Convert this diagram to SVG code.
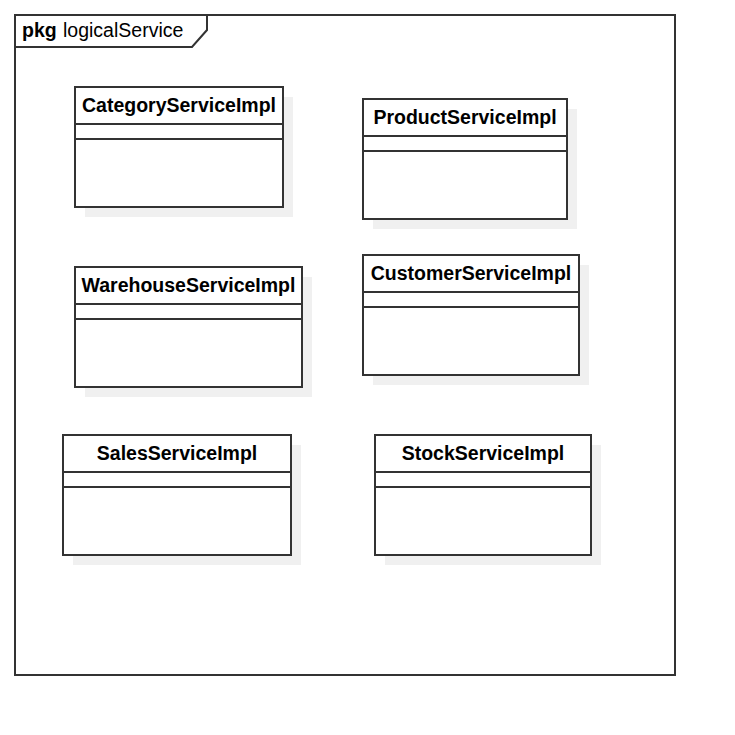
<svg xmlns="http://www.w3.org/2000/svg" width="735" height="735" viewBox="0 0 735 735">
<style>
.frame{fill:none;stroke:#333;stroke-width:2}
.box{fill:#fff;stroke:#333;stroke-width:2}
.sh{fill:#f0f0f0;stroke:none}
.ln{stroke:#333;stroke-width:2}
.t{font-family:"Liberation Sans",Arial,sans-serif;font-size:19.5px;font-weight:bold;fill:#000;text-anchor:middle}
.p{font-family:"Liberation Sans",Arial,sans-serif;font-size:19.5px;fill:#000}
</style>
<rect x="0" y="0" width="735" height="735" fill="#fff"/>
<g id="package">
<rect class="frame" x="15" y="15" width="660" height="660"/>
<path class="frame" d="M15,47 L192,47 L207,30 L207,15"/>
<text class="p" x="22" y="37" font-weight="bold">pkg</text>
<text class="p" x="63" y="37">logicalService</text>
</g>
<g id="CategoryServiceImpl">
<rect class="sh" x="85" y="97" width="208" height="120"/>
<rect class="box" x="75" y="87" width="208" height="120"/>
<line class="ln" x1="75" y1="124" x2="283" y2="124"/><line class="ln" x1="75" y1="139" x2="283" y2="139"/>
<text class="t" x="179" y="112">CategoryServiceImpl</text>
</g>
<g id="ProductServiceImpl">
<rect class="sh" x="373" y="109" width="204" height="120"/>
<rect class="box" x="363" y="99" width="204" height="120"/>
<line class="ln" x1="363" y1="136" x2="567" y2="136"/><line class="ln" x1="363" y1="151" x2="567" y2="151"/>
<text class="t" x="465" y="124">ProductServiceImpl</text>
</g>
<g id="WarehouseServiceImpl">
<rect class="sh" x="85" y="277" width="227" height="120"/>
<rect class="box" x="75" y="267" width="227" height="120"/>
<line class="ln" x1="75" y1="304" x2="302" y2="304"/><line class="ln" x1="75" y1="319" x2="302" y2="319"/>
<text class="t" x="188.5" y="292">WarehouseServiceImpl</text>
</g>
<g id="CustomerServiceImpl">
<rect class="sh" x="373" y="265" width="216" height="120"/>
<rect class="box" x="363" y="255" width="216" height="120"/>
<line class="ln" x1="363" y1="292" x2="579" y2="292"/><line class="ln" x1="363" y1="307" x2="579" y2="307"/>
<text class="t" x="471" y="280">CustomerServiceImpl</text>
</g>
<g id="SalesServiceImpl">
<rect class="sh" x="73" y="445" width="228" height="120"/>
<rect class="box" x="63" y="435" width="228" height="120"/>
<line class="ln" x1="63" y1="472" x2="291" y2="472"/><line class="ln" x1="63" y1="487" x2="291" y2="487"/>
<text class="t" x="177" y="460">SalesServiceImpl</text>
</g>
<g id="StockServiceImpl">
<rect class="sh" x="385" y="445" width="216" height="120"/>
<rect class="box" x="375" y="435" width="216" height="120"/>
<line class="ln" x1="375" y1="472" x2="591" y2="472"/><line class="ln" x1="375" y1="487" x2="591" y2="487"/>
<text class="t" x="483" y="460">StockServiceImpl</text>
</g>
<g id="connectors"/>
</svg>
